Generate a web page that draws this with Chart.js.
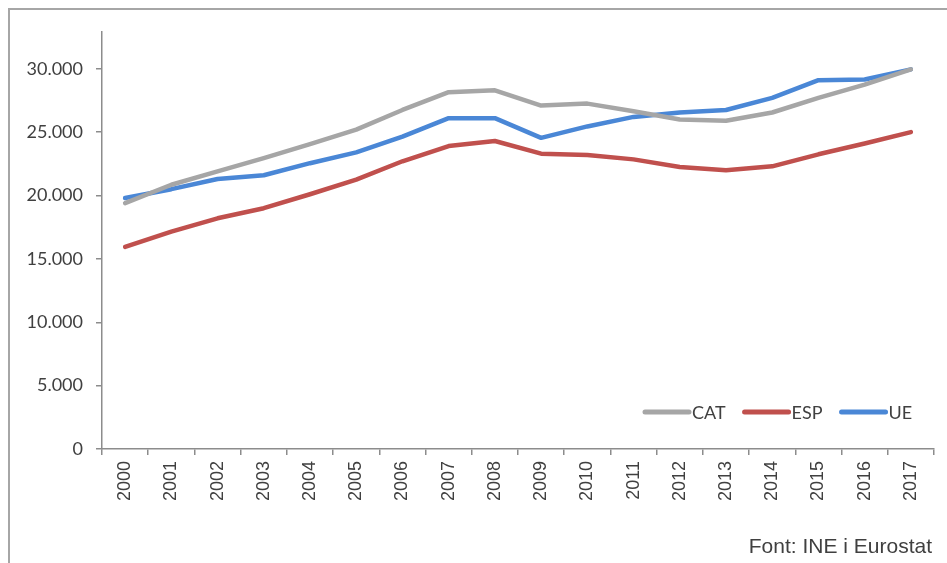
<!DOCTYPE html>
<html>
<head>
<meta charset="utf-8">
<script src="https://cdn.jsdelivr.net/npm/chart.js@4/dist/chart.umd.min.js"></script>
<style>
  html, body { margin: 0; padding: 0; background: #fff; overflow: hidden; }
  .frame {
    position: absolute; left: 8px; top: 8px; width: 1000px; height: 600px;
    border-top: 2px solid #a6a6a6; border-left: 2px solid #a6a6a6;
  }
  .wrap { position: absolute; left: 0; top: 0; width: 947px; height: 563px; }
  .source {
    position: absolute; right: 15px; top: 534px; line-height: 24px;
    font: 21px "Liberation Sans", Arial, sans-serif; color: #404040;
  }
</style>
</head>
<body>
<div class="frame"></div>
<div class="wrap"><canvas id="chart" width="947" height="563"></canvas></div>
<div class="source">Font: INE i Eurostat</div>
<script>
const years = ["2000", "2001", "2002", "2003", "2004", "2005", "2006", "2007", "2008",
  "2009", "2010", "2011", "2012", "2013", "2014", "2015", "2016", "2017"];

const cat = [19400, 20850, 21900, 22950, 24050, 25200, 26750, 28150, 28300,
  27100, 27250, 26650, 26000, 25900, 26550, 27700, 28750, 29950];
const esp = [15950, 17150, 18200, 19000, 20100, 21250, 22700, 23900, 24300,
  23300, 23200, 22850, 22250, 22000, 22300, 23250, 24100, 25000];
const ue = [19800, 20500, 21300, 21600, 22550, 23400, 24650, 26100, 26100,
  24550, 25450, 26200, 26550, 26750, 27700, 29100, 29150, 29950];

const yTicks = [0, 5000, 10000, 15000, 20000, 25000, 30000];

const axisColor = "#8c8c8c";
const textColor = "#404040";

function fmt(v) {
  return String(v).replace(/\B(?=(\d{3})+(?!\d))/g, ".");
}

// legend drawn inside the plot, bottom right, like the excel one
const innerLegend = {
  id: "innerLegend",
  afterDraw(chart) {
    const ctx = chart.ctx;
    let x = 645;
    const y = 412;
    ctx.save();
    ctx.font = "18px Lato, sans-serif";
    ctx.textBaseline = "middle";
    chart.data.datasets.forEach(ds => {
      ctx.strokeStyle = ds.borderColor;
      ctx.lineWidth = 5;
      ctx.lineCap = "round";
      ctx.beginPath();
      ctx.moveTo(x, y);
      ctx.lineTo(x + 44, y);
      ctx.stroke();
      ctx.fillStyle = textColor;
      ctx.fillText(ds.label, x + 47, y + 1);
      x += 47 + ctx.measureText(ds.label).width + 19;
    });
    ctx.restore();
  }
};

new Chart(document.getElementById("chart"), {
  type: "line",
  data: {
    labels: years,
    datasets: [
      { label: "CAT", data: cat, borderColor: "#a6a6a6" },
      { label: "ESP", data: esp, borderColor: "#c0504d" },
      { label: "UE", data: ue, borderColor: "#4a87d6" }
    ]
  },
  options: {
    responsive: false,
    animation: false,
    layout: { padding: { left: 0, right: 13, top: 32, bottom: 0 } },
    elements: {
      line: { borderWidth: 4.5, tension: 0, borderCapStyle: "round", borderJoinStyle: "round" },
      point: { radius: 0 }
    },
    plugins: {
      legend: { display: false },
      tooltip: { enabled: false }
    },
    scales: {
      x: {
        offset: true,
        grid: { drawOnChartArea: false, drawTicks: true, tickLength: 6, color: axisColor, lineWidth: 1.5, offset: true },
        border: { color: axisColor, width: 1.5 },
        ticks: {
          color: textColor,
          font: { family: "Liberation Sans", size: 18 },
          minRotation: 90,
          maxRotation: 90,
          padding: 6,
          autoSkip: false
        },
        afterFit(scale) { scale.height = 114; }
      },
      y: {
        min: 0,
        max: 32900,
        grid: { drawOnChartArea: false, drawTicks: true, tickLength: 6, color: axisColor, lineWidth: 1.5 },
        border: { color: axisColor, width: 1.5 },
        ticks: {
          color: textColor,
          font: { family: "Lato", size: 18 },
          padding: 13,
          callback: v => fmt(v)
        },
        afterBuildTicks(scale) {
          scale.ticks = yTicks.map(v => ({ value: v }));
        },
        afterFit(scale) { scale.width = 102; }
      }
    }
  },
  plugins: [innerLegend]
});
</script>
</body>
</html>
